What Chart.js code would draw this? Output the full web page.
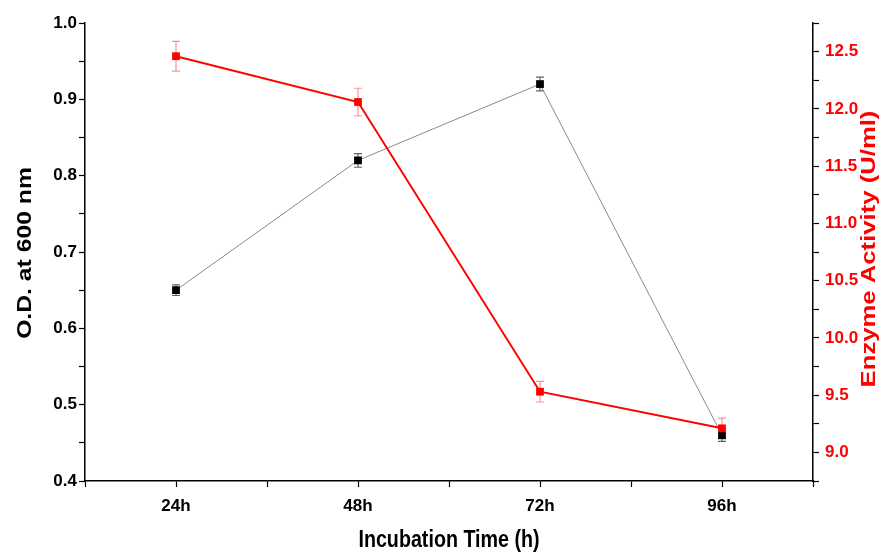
<!DOCTYPE html>
<html>
<head>
<meta charset="utf-8">
<script src="https://cdn.jsdelivr.net/npm/chart.js@4.4.1/dist/chart.umd.min.js"></script>
<style>
  html, body { margin: 0; padding: 0; background: #fff; }
  #wrap { width: 890px; height: 552px; }
</style>
</head>
<body>
<div id="wrap"><canvas id="growthChart" width="890" height="552"></canvas></div>
<script>
// incubation times (hours) and readings
const hours = [24, 48, 72, 96];
const odValues = [0.65, 0.82, 0.92, 0.46];
const odErrors = [0.007, 0.009, 0.009, 0.008];
const enzymeValues = [12.46, 12.06, 9.53, 9.21];
const enzymeErrors = [0.13, 0.12, 0.09, 0.09];

const FONT = "'Liberation Sans', Arial, sans-serif";

const toPoints = (vals) => hours.map((h, i) => ({ x: h, y: vals[i] }));

// error bars, drawn under the markers
const errorBars = {
    id: 'errorBars',
    beforeDatasetsDraw(chart) {
        const ctx = chart.ctx;
        const xs = chart.scales.x;
        const sets = [
            { axis: chart.scales.y, vals: odValues, errs: odErrors, color: 'rgba(60,60,60,0.8)' },
            { axis: chart.scales.y1, vals: enzymeValues, errs: enzymeErrors, color: 'rgba(255,60,60,0.55)' }
        ];
        ctx.save();
        ctx.lineWidth = 1.2;
        sets.forEach(s => {
            ctx.strokeStyle = s.color;
            hours.forEach((h, i) => {
                const px = xs.getPixelForValue(h);
                const top = s.axis.getPixelForValue(s.vals[i] + s.errs[i]);
                const bot = s.axis.getPixelForValue(s.vals[i] - s.errs[i]);
                ctx.beginPath();
                ctx.moveTo(px, top); ctx.lineTo(px, bot);
                ctx.moveTo(px - 4, top); ctx.lineTo(px + 4, top);
                ctx.moveTo(px - 4, bot); ctx.lineTo(px + 4, bot);
                ctx.stroke();
            });
        });
        ctx.restore();
    }
};

// axis titles in a narrow bold face; the right one reads bottom to top like the left
const axisTitles = {
    id: 'axisTitles',
    afterDraw(chart) {
        const ctx = chart.ctx;
        ctx.save();
        ctx.font = 'bold 24px ' + FONT;
        ctx.textAlign = 'center';
        ctx.textBaseline = 'middle';
        ctx.fillStyle = '#000';

        ctx.save();
        ctx.translate(449, 540);
        ctx.scale(0.82, 1);
        ctx.fillText('Incubation Time (h)', 0, 0);
        ctx.restore();

        ctx.save();
        ctx.translate(25, 253);
        ctx.rotate(-Math.PI / 2);
        ctx.scale(1.03, 0.85);
        ctx.fillText('O.D. at 600 nm', 0, 0);
        ctx.restore();

        ctx.save();
        ctx.translate(869, 249);
        ctx.rotate(-Math.PI / 2);
        ctx.scale(1.07, 0.85);
        ctx.fillStyle = '#ff0000';
        ctx.fillText('Enzyme Activity (U/ml)', 0, 0);
        ctx.restore();
        ctx.restore();
    }
};

const isMultiple = (v, step) => Math.abs(v / step - Math.round(v / step)) < 1e-6;

new Chart(document.getElementById('growthChart'), {
    type: 'line',
    data: {
        datasets: [
            {
                label: 'Enzyme Activity',
                data: toPoints(enzymeValues),
                yAxisID: 'y1',
                borderColor: '#ff0000',
                backgroundColor: '#ff0000',
                borderWidth: 2,
                pointStyle: 'rect',
                pointRadius: 5.5,
                pointBorderWidth: 0,
                order: 0
            },
            {
                label: 'O.D.',
                data: toPoints(odValues),
                yAxisID: 'y',
                borderColor: '#8a8a8a',
                backgroundColor: '#000',
                borderWidth: 1,
                pointStyle: 'rect',
                pointRadius: 5.5,
                pointBorderWidth: 0,
                order: 1
            }
        ]
    },
    options: {
        responsive: false,
        animation: false,
        layout: { padding: { top: 23, left: 0, right: 0, bottom: 0 } },
        plugins: {
            legend: { display: false },
            tooltip: { enabled: false }
        },
        scales: {
            x: {
                type: 'linear',
                min: 12,
                max: 108,
                afterFit: (s) => { s.height = 71; },
                border: { color: '#000', width: 1.5 },
                grid: { drawOnChartArea: false, tickLength: 6, color: '#000', tickWidth: 1.2 },
                ticks: {
                    stepSize: 12,
                    padding: 9,
                    color: '#000',
                    font: { family: FONT, size: 17, weight: 'bold' },
                    callback: (v) => hours.includes(v) ? v + 'h' : ''
                }
            },
            y: {
                position: 'left',
                min: 0.4,
                max: 1.0,
                afterFit: (s) => { s.width = 85; },
                border: { color: '#000', width: 1.5 },
                grid: { drawOnChartArea: false, tickLength: 6, color: '#000', tickWidth: 1.2 },
                ticks: {
                    stepSize: 0.05,
                    padding: 2,
                    color: '#000',
                    font: { family: FONT, size: 17, weight: 'bold' },
                    callback: (v) => isMultiple(v, 0.1) ? v.toFixed(1) : ''
                }
            },
            y1: {
                position: 'right',
                min: 8.75,
                max: 12.75,
                afterFit: (s) => { s.width = 77; },
                border: { color: '#000', width: 1.5 },
                grid: { drawOnChartArea: false, tickLength: 6, color: '#000', tickWidth: 1.2 },
                ticks: {
                    stepSize: 0.25,
                    padding: 6,
                    color: '#ff0000',
                    font: { family: FONT, size: 17, weight: 'bold' },
                    callback: (v) => isMultiple(v, 0.5) ? v.toFixed(1) : ''
                }
            }
        }
    },
    plugins: [errorBars, axisTitles]
});
</script>
</body>
</html>
